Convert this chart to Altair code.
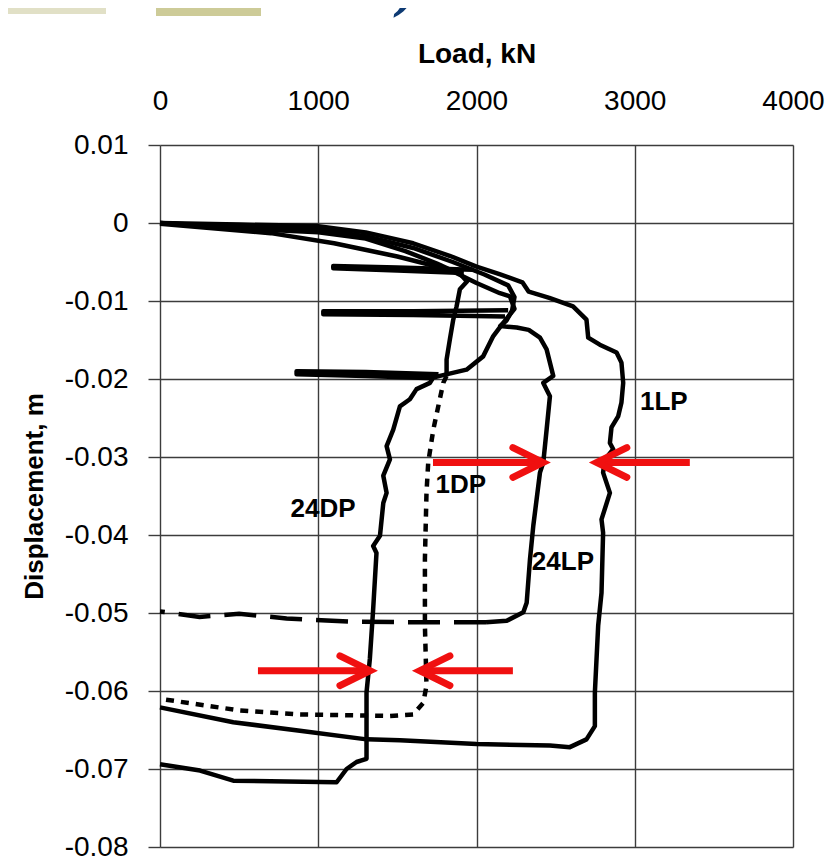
import altair as alt
import pandas as pd

# ---------------- data (load in kN, displacement in m) ----------------
LP1_LOAD = [0, 500, 1000, 1300, 1600, 1830, 2000, 2150, 2290, 2330, 2460, 2610, 2695, 2706, 2779, 2885, 2916, 2927, 2916, 2895,
            2853, 2843, 2864, 2811, 2800, 2843, 2790, 2800, 2790, 2769, 2748, 2748, 2695, 2590, 2464, 2000, 1516, 1305, 884, 463, 0]
LP1_DISP = [0, -0.0002, -0.0004, -0.0012, -0.0026, -0.0042, -0.0056, -0.0066, -0.0076, -0.0088, -0.0096, -0.0107, -0.0124, -0.0147,
            -0.0156, -0.0166, -0.0179, -0.0205, -0.0230, -0.0248, -0.0262, -0.0282, -0.0290, -0.0303, -0.0320, -0.0346, -0.0380,
            -0.0397, -0.0474, -0.0516, -0.0602, -0.0645, -0.0662, -0.0672, -0.0670, -0.0668, -0.0663, -0.0662, -0.0651, -0.0640, -0.0621]

LP24_LOAD = [0, 500, 1000, 1300, 1600, 1850, 2050, 2200, 2240, 2225, 2190, 2150, 2254, 2330, 2401, 2443, 2485, 2422, 2464, 2443,
             2422, 2401, 2359, 2338, 2317, 2296, 2191, 2060]
LP24_DISP = [0, -0.0005, -0.0008, -0.0017, -0.0032, -0.0050, -0.0066, -0.0080, -0.0095, -0.0112, -0.0125, -0.0132, -0.0134, -0.0137,
             -0.0147, -0.0162, -0.0196, -0.0205, -0.0222, -0.0265, -0.0307, -0.0320, -0.0388, -0.0431, -0.0487, -0.0499, -0.0510, -0.0512]
LP24_UNLOAD_LOAD = [2060, 1600, 1200, 800, 500, 250, 0]
LP24_UNLOAD_DISP = [-0.0512, -0.0512, -0.0511, -0.0507, -0.0501, -0.0505, -0.0498]

DP1_LOAD = [0, 600, 1000, 1300, 1550, 1750, 1900, 1940, 1895, 1874, 1853, 1832, 1811, 1811]
DP1_DISP = [0, -0.0008, -0.0012, -0.0020, -0.0036, -0.0052, -0.0066, -0.0075, -0.0085, -0.0107, -0.0124, -0.0149, -0.0175, -0.0196]
DP1_DOT_LOAD = [1811, 1790, 1727, 1695, 1684, 1674, 1674, 1684, 1664, 1600, 1453, 884, 505, 0]
DP1_DOT_DISP = [-0.0196, -0.0205, -0.0265, -0.0307, -0.0346, -0.0431, -0.0516, -0.0593, -0.0615, -0.0630, -0.0632, -0.0630, -0.0625, -0.0610]

DP24_LOAD = [0, 700, 1100, 1500, 1830, 2000, 2148, 2211, 2240, 2169, 2106, 2042, 1937, 1769, 1727, 1706, 1621, 1579, 1516, 1474,
             1432, 1453, 1411, 1432, 1411, 1390, 1347, 1368, 1347, 1326, 1305, 1305, 1242, 1179, 1116, 463, 253, 0]
DP24_DISP = [-0.0001, -0.0013, -0.0026, -0.0043, -0.0060, -0.0077, -0.0090, -0.0094, -0.0110, -0.0128, -0.0145, -0.0171, -0.0188,
             -0.0196, -0.0198, -0.0205, -0.0213, -0.0226, -0.0235, -0.0265, -0.0286, -0.0303, -0.0324, -0.0346, -0.0359, -0.0401,
             -0.0414, -0.0423, -0.0495, -0.0559, -0.0602, -0.0687, -0.0691, -0.0700, -0.0717, -0.0715, -0.0702, -0.0694]

# unload-reload loops
LOOP_A_LOAD = [1980, 1500, 1095, 1095, 1500, 1920]
LOOP_A_DISP = [-0.0060, -0.0057, -0.0055, -0.0058, -0.0061, -0.0064]
LOOP_B_LOAD = [2200, 1600, 1032, 1032, 1600, 2180]
LOOP_B_DISP = [-0.0112, -0.0113, -0.0113, -0.0117, -0.0118, -0.0120]
LOOP_C_LOAD = [1760, 1300, 863, 863, 1300, 1730]
LOOP_C_DISP = [-0.0194, -0.0191, -0.0190, -0.0194, -0.0196, -0.0199]

# curve labels
LABEL_TEXT = ["1LP", "24LP", "1DP", "24DP"]
LABEL_LOAD = [3184, 2546, 1901, 1030]
LABEL_DISP = [-0.0229, -0.0435, -0.0336, -0.0367]

# red arrows
ARROW_TAIL = [1725, 3348, 619, 2230]
ARROW_TIP = [2420, 2760, 1327, 1642]
ARROW_DISP = [-0.0307, -0.0307, -0.0574, -0.0574]
HEAD_BACK = 190
HEAD_HALF = 0.0019

X_TICKS = [0, 1000, 2000, 3000, 4000]
Y_TICKS = [0.01, 0, -0.01, -0.02, -0.03, -0.04, -0.05, -0.06, -0.07, -0.08]

# ---------------- tables ----------------
rows = []
def add(seg, loads, disps, style):
    for i, (l, d) in enumerate(zip(loads, disps)):
        rows.append({"seg": seg, "style": style, "order": i, "load": l, "disp": d})

add("1LP", LP1_LOAD, LP1_DISP, "solid")
add("24LP", LP24_LOAD, LP24_DISP, "solid")
add("24LPu", LP24_UNLOAD_LOAD, LP24_UNLOAD_DISP, "dashed")
add("1DP", DP1_LOAD, DP1_DISP, "solid")
add("1DPd", DP1_DOT_LOAD, DP1_DOT_DISP, "dotted")
add("24DP", DP24_LOAD, DP24_DISP, "solid")
add("loopA", LOOP_A_LOAD, LOOP_A_DISP, "solid")
add("loopB", LOOP_B_LOAD, LOOP_B_DISP, "solid")
add("loopC", LOOP_C_LOAD, LOOP_C_DISP, "solid")
df = pd.DataFrame(rows)

labels = pd.DataFrame({"text": LABEL_TEXT, "load": LABEL_LOAD, "disp": LABEL_DISP})

shafts = pd.DataFrame({"load": ARROW_TAIL, "tip": ARROW_TIP, "disp": ARROW_DISP})
head_rows = []
for k, (t, tip, d) in enumerate(zip(ARROW_TAIL, ARROW_TIP, ARROW_DISP)):
    direction = 1 if tip > t else -1
    back = tip - direction * HEAD_BACK
    for i, (l, y) in enumerate([(back, d + HEAD_HALF), (tip, d), (back, d - HEAD_HALF)]):
        head_rows.append({"arrow": k, "order": i, "load": l, "disp": y})
heads = pd.DataFrame(head_rows)

FONT = "Liberation Sans"
RED = "#f01010"
GRID = "#3c3c3c"

XS = alt.Scale(domain=[0, 4000], nice=False, zero=False)
YS = alt.Scale(domain=[-0.08, 0.01], nice=False, zero=False)

XAXIS = alt.Axis(orient="top", values=X_TICKS, format="d", title="Load, kN",
                 grid=True, gridColor=GRID, gridWidth=1.4, gridOpacity=1,
                 ticks=False, domain=False, labelPadding=30, labelFlush=False,
                 labelFontSize=28, labelFont=FONT, labelColor="black",
                 titleFontSize=28, titleFont=FONT, titleFontWeight="bold",
                 titleColor="black", titlePadding=19)
YAXIS = alt.Axis(values=Y_TICKS, title="Displacement, m",
                 labelExpr="datum.value == 0 ? '0' : (datum.value < 0 ? '-' : '') + format(abs(datum.value), '.2f')",
                 grid=True, gridColor=GRID, gridWidth=1.4, gridOpacity=1,
                 ticks=True, tickSize=12, tickColor=GRID, tickWidth=1.4,
                 domain=False, labelPadding=20, labelFlush=False,
                 labelFontSize=28, labelFont=FONT, labelColor="black",
                 titleFontSize=26, titleFont=FONT, titleFontWeight="bold",
                 titleColor="black", titlePadding=17)
X = alt.X("load:Q", scale=XS, axis=XAXIS)
Y = alt.Y("disp:Q", scale=YS, axis=YAXIS)

base = alt.Chart(df)
solid = base.transform_filter(alt.datum.style == "solid").mark_line(
    color="black", strokeWidth=4.5, strokeJoin="round").encode(
    x=X, y=Y, detail="seg:N", order="order:Q")
dashed = base.transform_filter(alt.datum.style == "dashed").mark_line(
    color="black", strokeWidth=4.5, strokeDash=[32, 14]).encode(
    x=X, y=Y, detail="seg:N", order="order:Q")
dotted = base.transform_filter(alt.datum.style == "dotted").mark_line(
    color="black", strokeWidth=4.5, strokeDash=[8, 7]).encode(
    x=X, y=Y, detail="seg:N", order="order:Q")

text = alt.Chart(labels).mark_text(font=FONT, fontSize=26, fontWeight="bold", color="black",
                                   align="center", baseline="middle").encode(
    x=X, y=Y, text="text:N")

shaft = alt.Chart(shafts).mark_rule(color=RED, strokeWidth=7).encode(
    x=X, x2="tip:Q", y=Y)
head = alt.Chart(heads).mark_line(color=RED, strokeWidth=7, strokeCap="round", strokeJoin="miter").encode(
    x=X, y=Y, detail="arrow:N", order="order:Q")

dummy = alt.Data(values=[{"a": 1}])
rect1 = alt.Chart(dummy).mark_rect(color="#e1e0c6").encode(
    x=alt.value(-160), x2=alt.value(-54), y=alt.value(-139), y2=alt.value(-131))
rect2 = alt.Chart(dummy).mark_rect(color="#cdcb98").encode(
    x=alt.value(-4), x2=alt.value(101), y=alt.value(-145), y2=alt.value(-129))
header = alt.Chart(dummy).mark_text(font="Liberation Serif", fontSize=60, fontStyle="italic",
                                    fontWeight="bold", color="#0d3a73", align="left",
                                    baseline="alphabetic").encode(
    x=alt.value(118), y=alt.value(-140), text=alt.value("2002)"))

chart = alt.layer(solid, dashed, dotted, text, shaft, head, rect1, rect2, header).properties(
    width=633, height=702,
    autosize=alt.AutoSizeParams(type="none"),
    padding={"left": 152, "top": 137, "right": 32, "bottom": 12},
).configure_view(stroke=None).configure(background="white")

chart.save("out.html", embed_options={"renderer": "svg", "actions": False})
